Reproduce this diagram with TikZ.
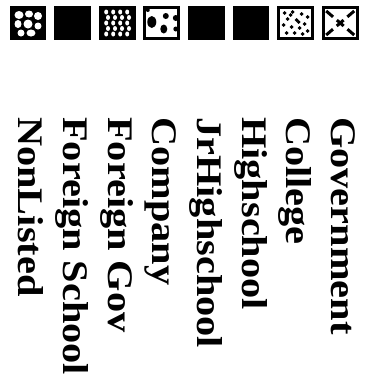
\documentclass[tikz,border=0pt]{standalone}
\usepackage{fontspec}
\setmainfont{Liberation Serif}
\begin{document}
\begin{tikzpicture}[x=1pt, y=-1pt,
    swatch/.style={draw, line width=2.8pt, minimum width=34pt, minimum height=31pt, inner sep=0pt},
    legendlabel/.style={rotate=-90, anchor=base west, inner sep=0pt, xscale=1.12,
        font=\bfseries\fontsize{36}{36}\selectfont}]

    \useasboundingbox (0,0) rectangle (367,391);

    % Swatches (top row)
    \node[swatch, fill=black] (nonlistedsw) at (28,23) {};
    \node[swatch, fill=black] (fschoolsw) at (72.6,23) {};
    \node[swatch, fill=black] (fgovsw) at (117.2,23) {};
    \node[swatch, fill=white] (companysw) at (161.8,23) {};
    \node[swatch, fill=black] (jrhighsw) at (206.4,23) {};
    \node[swatch, fill=black] (highsw) at (251,23) {};
    \node[swatch, fill=white] (collegesw) at (295.6,23) {};
    \node[swatch, fill=white] (govsw) at (340.2,23) {};

    % Large white blobs (NonListed)
    \begin{scope}[shift={(nonlistedsw.center)}, white]
        \fill (-9,-8) ellipse (4.5 and 4);
        \fill (1,-9) ellipse (4 and 3.5);
        \fill (10,-7) circle (4);
        \fill (-10,1) ellipse (3.5 and 4);
        \fill (0,1) circle (4.5);
        \fill (10,3) circle (3.5);
        \fill (-7,10) circle (3.5);
        \fill (3,10) ellipse (4.5 and 3.5);
    \end{scope}

    % Small wavy white blobs (Foreign Gov)
    \begin{scope}[shift={(fgovsw.center)}, white]
        \foreach \cx in {-11,-4,3,10}
            \foreach \cy in {-11,-5.5,0,5.5,11}
                \fill ({\cx+1.8*mod(\cy+11,11)/5.5},\cy) ellipse (2 and 2.5);
    \end{scope}

    % Black blobs (Company)
    \begin{scope}[shift={(companysw.center)}]
        \fill (-10,-1) ellipse (4.5 and 6);
        \fill (4,-7) circle (3);
        \fill (2,6) ellipse (3.5 and 4.5);
        \fill (14,-5) circle (3);
        \fill (14,6) circle (2.5);
        \fill (-14,-13) circle (2);
    \end{scope}

    % Scattered dots (College)
    \begin{scope}[shift={(collegesw.center)}]
        \foreach \px/\py in {-11/-10,-3/-11,6/-9,12/-6,-8/-4,1/-3,9/1,
                             -12/2,-4/4,4/5,12/8,-9/10,-1/10,7/11,-5/-8,3/-1}
            \fill (\px,\py) circle (1.9);
    \end{scope}

    % Broken diagonals (Government)
    \begin{scope}[shift={(govsw.center)}]
        \draw[line width=3pt, dash pattern=on 9pt off 5pt] (-14,-12) -- (14,12);
        \draw[line width=3pt, dash pattern=on 9pt off 5pt] (14,-12) -- (-14,12);
    \end{scope}

    % Labels (rotated, reading downwards)
    \node[legendlabel] (nonlistedlbl) at (19,117) {NonListed};
    \node[legendlabel] (fschoollbl) at (63.6,117) {Foreign School};
    \node[legendlabel] (fgovlbl) at (108.2,117) {Foreign Gov};
    \node[legendlabel] (companylbl) at (152.8,117) {Company};
    \node[legendlabel] (jrhighlbl) at (197.4,117) {JrHighschool};
    \node[legendlabel] (highlbl) at (242,117) {Highschool};
    \node[legendlabel] (collegelbl) at (286.6,117) {College};
    \node[legendlabel] (govlbl) at (331.2,117) {Government};

\end{tikzpicture}
\end{document}
